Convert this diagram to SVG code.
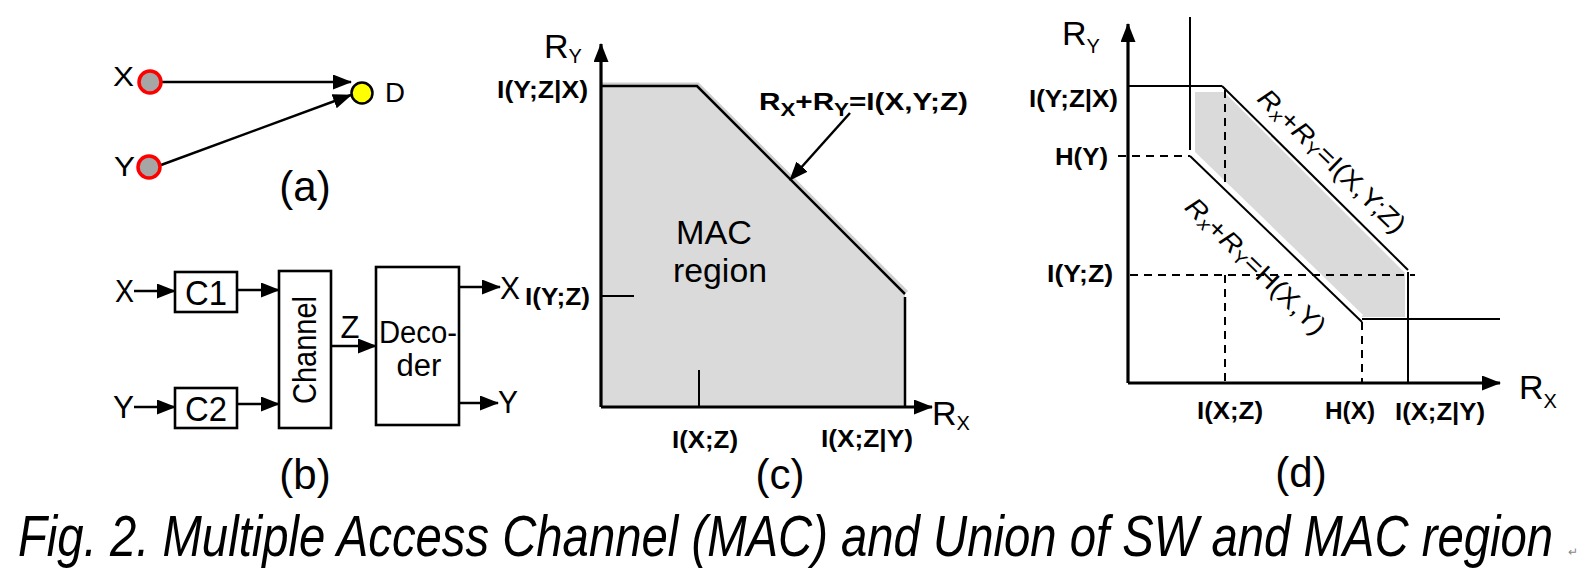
<svg xmlns="http://www.w3.org/2000/svg" width="1584" height="576" viewBox="0 0 1584 576">
<style>
text{font-family:"Liberation Sans",Arial,sans-serif;fill:#000}
.b{font-weight:bold;font-size:24px}
.lab{font-size:42px}
.t{font-size:31px}
.ln{stroke:#000;stroke-width:2.5;fill:none}
.ax{stroke:#000;stroke-width:3.2;fill:none}
.th{stroke:#000;stroke-width:2;fill:none}
.ds{stroke:#000;stroke-width:2;fill:none;stroke-dasharray:8 6}
.box{fill:#fff;stroke:#000;stroke-width:2.6}
</style>
<defs>
<marker id="ah" markerUnits="userSpaceOnUse" markerWidth="19" markerHeight="15" refX="18" refY="7.5" orient="auto">
<path d="M0,0 L19,7.5 L0,15 z" fill="#000"/>
</marker>
</defs>
<rect width="1584" height="576" fill="#fff"/>

<!-- (a) -->
<g id="a-connectors">
<line class="ln" x1="162" y1="82" x2="351" y2="82" marker-end="url(#ah)"/>
<line class="ln" x1="161" y1="165" x2="351" y2="95" marker-end="url(#ah)"/>
</g>
<g id="a-X"><circle cx="150" cy="82" r="11" fill="#a6a6a6" stroke="#ff0000" stroke-width="3.5"/><text x="113" y="86" font-size="28" textLength="21" lengthAdjust="spacingAndGlyphs">X</text></g>
<g id="a-Y"><circle cx="149" cy="167" r="11" fill="#a6a6a6" stroke="#ff0000" stroke-width="3.5"/><text x="114" y="176" font-size="28" textLength="21" lengthAdjust="spacingAndGlyphs">Y</text></g>
<g id="a-D"><circle cx="362" cy="93" r="10.5" fill="#ffff00" stroke="#000" stroke-width="2.5"/><text x="385" y="102" font-size="28" textLength="20" lengthAdjust="spacingAndGlyphs">D</text></g>
<text class="lab" x="305" y="201" text-anchor="middle">(a)</text>

<!-- (b) -->
<g id="b-connectors">
<line class="ln" x1="134" y1="291" x2="175" y2="291" marker-end="url(#ah)"/>
<line class="ln" x1="134" y1="407" x2="175" y2="407" marker-end="url(#ah)"/>
<line class="ln" x1="237" y1="290" x2="279" y2="290" marker-end="url(#ah)"/>
<line class="ln" x1="237" y1="404" x2="279" y2="404" marker-end="url(#ah)"/>
<line class="ln" x1="331" y1="346" x2="376" y2="346" marker-end="url(#ah)"/>
<line class="ln" x1="459" y1="287" x2="500" y2="287" marker-end="url(#ah)"/>
<line class="ln" x1="459" y1="403" x2="498" y2="403" marker-end="url(#ah)"/>
</g>
<text x="115" y="302" font-size="32" textLength="19" lengthAdjust="spacingAndGlyphs">X</text>
<text x="113" y="418" font-size="32" textLength="21" lengthAdjust="spacingAndGlyphs">Y</text>
<g id="b-C1"><rect class="box" x="175" y="272" width="62" height="40"/><text x="206" y="305" font-size="35" text-anchor="middle" textLength="42" lengthAdjust="spacingAndGlyphs">C1</text></g>
<g id="b-C2"><rect class="box" x="175" y="388" width="62" height="40"/><text x="206" y="421" font-size="35" text-anchor="middle" textLength="42" lengthAdjust="spacingAndGlyphs">C2</text></g>
<g id="b-Channel"><rect class="box" x="279" y="271" width="52" height="157"/><text transform="translate(316,350) rotate(-90)" font-size="33" text-anchor="middle" textLength="108" lengthAdjust="spacingAndGlyphs">Channel</text></g>
<text class="t" x="350" y="338" text-anchor="middle">Z</text>
<g id="b-Decoder"><rect class="box" x="376" y="267" width="83" height="158"/><text class="t" x="418" y="343" text-anchor="middle" textLength="78" lengthAdjust="spacingAndGlyphs">Deco-</text><text class="t" x="419" y="376" text-anchor="middle">der</text></g>
<text x="500" y="299" font-size="31" textLength="20" lengthAdjust="spacingAndGlyphs">X</text>
<text x="498" y="413" font-size="31" textLength="20" lengthAdjust="spacingAndGlyphs">Y</text>
<text class="lab" x="305" y="489" text-anchor="middle">(b)</text>

<!-- (c) -->
<g id="c-region">
<polygon points="601,86 697,86 905,294 905,407 601,407" fill="#dadada"/>
<polyline points="602,84 698,84 907,292" fill="none" stroke="#cfcfcf" stroke-width="3"/>
<polyline class="ln" points="601,86 697,86 905,294"/>
<line class="ln" x1="905" y1="297" x2="905" y2="407"/>
<text x="714" y="244" font-size="34" text-anchor="middle" textLength="76" lengthAdjust="spacingAndGlyphs">MAC</text>
<text x="720" y="282" font-size="34" text-anchor="middle" textLength="94" lengthAdjust="spacingAndGlyphs">region</text>
</g>
<g id="c-axes">
<line class="ax" x1="601" y1="407" x2="601" y2="44" marker-end="url(#ah)"/>
<line class="ax" x1="601" y1="407" x2="932" y2="407" marker-end="url(#ah)"/>
<line class="th" x1="601" y1="296" x2="634" y2="296"/>
<line class="th" x1="699" y1="370" x2="699" y2="407"/>
<line class="ln" x1="850" y1="113" x2="790" y2="180" marker-end="url(#ah)"/>
</g>
<text x="544" y="58" font-size="34">R<tspan font-size="20" dy="5">Y</tspan></text>
<text x="932" y="425" font-size="34">R<tspan font-size="20" dy="5">X</tspan></text>
<text class="b" x="497" y="98" textLength="91" lengthAdjust="spacingAndGlyphs">I(Y;Z|X)</text>
<text class="b" x="525" y="305" textLength="65" lengthAdjust="spacingAndGlyphs">I(Y;Z)</text>
<text class="b" x="672" y="448" textLength="66" lengthAdjust="spacingAndGlyphs">I(X;Z)</text>
<text class="b" x="821" y="447" textLength="92" lengthAdjust="spacingAndGlyphs">I(X;Z|Y)</text>
<text class="b" x="759" y="110" font-size="27" textLength="209" lengthAdjust="spacingAndGlyphs">R<tspan font-size="18" dy="6">X</tspan><tspan dy="-6">+R</tspan><tspan font-size="18" dy="6">Y</tspan><tspan dy="-6">=I(X,Y;Z)</tspan></text>
<text class="lab" x="780" y="489" text-anchor="middle">(c)</text>

<!-- (d) -->
<g id="d-region">
<polygon points="1195,92 1224,92 1405,273 1405,317 1362,317 1195,153" fill="#dadada"/>
<line x1="1193" y1="152" x2="1362" y2="316" stroke="#fff" stroke-width="3"/>
</g>
<g id="d-lines">
<line class="th" x1="1190" y1="17" x2="1190" y2="150"/>
<line class="th" x1="1128" y1="86" x2="1222" y2="86"/>
<line class="th" x1="1222" y1="86" x2="1408" y2="270"/>
<line class="th" x1="1408" y1="272" x2="1408" y2="383"/>
<line class="th" x1="1362" y1="319" x2="1500" y2="319"/>
<line class="th" x1="1190" y1="156" x2="1362" y2="322"/>
<line class="ds" x1="1118" y1="156" x2="1190" y2="156"/>
<line class="ds" x1="1130" y1="275" x2="1415" y2="275"/>
<line class="ds" x1="1225" y1="90" x2="1225" y2="188"/>
<line class="ds" x1="1225" y1="275" x2="1225" y2="383"/>
<line class="ds" x1="1362" y1="322" x2="1362" y2="383"/>
<line class="ax" x1="1128" y1="383" x2="1128" y2="24" marker-end="url(#ah)"/>
<line class="ax" x1="1128" y1="383" x2="1500" y2="383" marker-end="url(#ah)"/>
</g>
<text x="1062" y="45" font-size="34">R<tspan font-size="20" dy="8">Y</tspan></text>
<text x="1519" y="399" font-size="34">R<tspan font-size="20" dy="9">X</tspan></text>
<text class="b" x="1029" y="107" textLength="89" lengthAdjust="spacingAndGlyphs">I(Y;Z|X)</text>
<text class="b" x="1055" y="165" textLength="53" lengthAdjust="spacingAndGlyphs">H(Y)</text>
<text class="b" x="1047" y="282" textLength="66" lengthAdjust="spacingAndGlyphs">I(Y;Z)</text>
<text class="b" x="1197" y="419" textLength="66" lengthAdjust="spacingAndGlyphs">I(X;Z)</text>
<text class="b" x="1325" y="419" textLength="50" lengthAdjust="spacingAndGlyphs">H(X)</text>
<text class="b" x="1395" y="420" textLength="90" lengthAdjust="spacingAndGlyphs">I(X;Z|Y)</text>
<text transform="translate(1332,161) rotate(44)" font-size="26" text-anchor="middle" dominant-baseline="central" textLength="194" lengthAdjust="spacingAndGlyphs"><tspan font-style="italic">R</tspan><tspan font-size="18" font-style="italic" dy="6">x</tspan><tspan dy="-6">+</tspan><tspan font-style="italic">R</tspan><tspan font-size="18" dy="6">Y</tspan><tspan dy="-6">=I(X,Y;Z)</tspan></text>
<text transform="translate(1256,266) rotate(44)" font-size="26" text-anchor="middle" dominant-baseline="central" textLength="184" lengthAdjust="spacingAndGlyphs"><tspan font-style="italic">R</tspan><tspan font-size="18" font-style="italic" dy="6">x</tspan><tspan dy="-6">+</tspan><tspan font-style="italic">R</tspan><tspan font-size="18" dy="6">Y</tspan><tspan dy="-6">=H(X,Y)</tspan></text>
<text class="lab" x="1301" y="487" text-anchor="middle">(d)</text>

<!-- caption -->
<text transform="translate(18,556) scale(0.82,1)" x="0" y="0" font-size="58" font-style="italic" textLength="1872" lengthAdjust="spacingAndGlyphs">Fig. 2. Multiple Access Channel (MAC) and Union of SW and MAC region</text>
<text x="1568" y="556" font-size="12" style="fill:#888">↵</text>
</svg>
